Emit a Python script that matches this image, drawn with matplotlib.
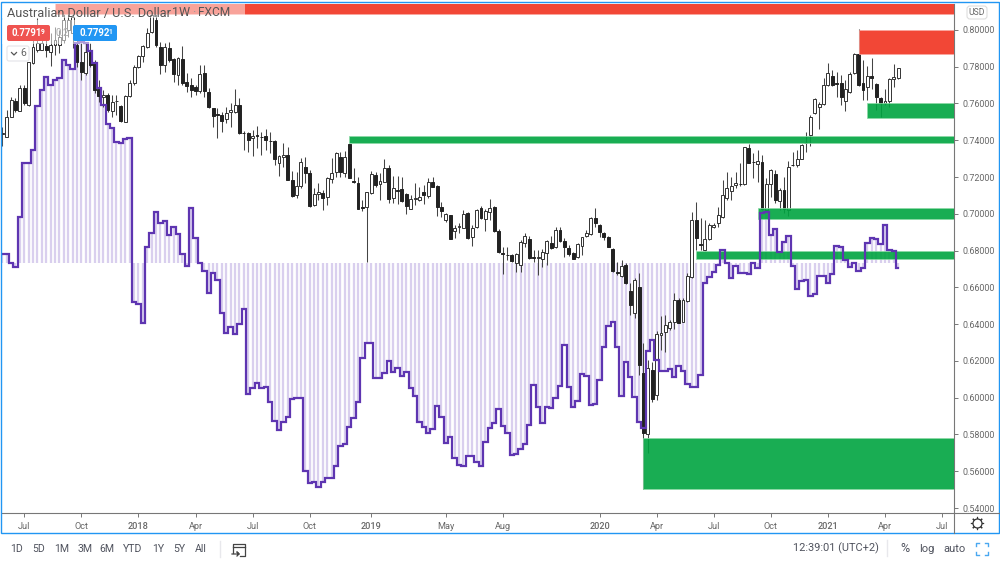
import matplotlib
matplotlib.use('Agg')
import matplotlib.pyplot as plt
from matplotlib.patches import Rectangle, FancyBboxPatch
import numpy as np

plt.rcParams['font.family'] = ['Roboto', 'DejaVu Sans']

# weekly AUD/USD candles, prices x 1e4
opens = [7434,7420,7528,7615,7561,7682,7592,7818,7891,7891,
         7915,7882,7918,7918,7945,7999,7982,7918,7828,7768,
         7882,7818,7677,7637,7646,7561,7612,7586,7501,7641,
         7710,7800,7858,7909,7991,8054,7909,7809,7904,7840,
         7755,7842,7719,7701,7688,7670,7768,7664,7574,7541,
         7537,7514,7556,7556,7590,7441,7438,7411,7427,7420,
         7423,7398,7398,7275,7311,7320,7184,7101,7151,7256,
         7224,7048,7108,7115,7093,7188,7229,7307,7224,7380,
         7178,7169,7035,7039,7111,7211,7162,7175,7247,7084,
         7128,7133,7106,7026,7081,7075,7119,7099,7175,7151,
         7035,6966,6992,6907,6928,6925,7003,6872,6926,7030,
         6970,7008,7035,6907,6789,6776,6774,6731,6722,6839,
         6861,6765,6758,6752,6785,6839,6818,6912,6852,6812,
         6789,6763,6827,6879,6888,6979,6939,6897,6872,6809,
         6682,6664,6722,6580,6462,6600,6136,5802,6150,6014,
         6341,6359,6377,6413,6531,6413,6528,6658,6966,6834,
         6803,6861,6926,6952,6981,7084,7126,7155,7162,7162,
         7356,7284,7271,7280,7021,7162,7215,7071,7130,7021,
         7267,7267,7300,7383,7429,7547,7583,7597,7701,7750,
         7710,7710,7615,7664,7764,7869,7710,7692,7750,7706,
         7632,7601,7615,7731,7737]
highs = [7474,7565,7637,7628,7701,7701,7828,7964,8063,7982,
         7945,7982,8018,7999,8109,8090,8090,7999,7927,7927,
         7927,7837,7728,7673,7655,7646,7646,7592,7646,7728,
         7809,7864,7918,8009,8127,8090,7936,7927,7936,7846,
         7851,7913,7764,7737,7701,7809,7809,7682,7574,7574,
         7556,7583,7601,7677,7628,7452,7447,7456,7478,7447,
         7460,7447,7402,7320,7383,7365,7235,7229,7302,7311,
         7238,7139,7166,7130,7202,7302,7338,7338,7343,7380,
         7247,7202,7075,7120,7235,7229,7220,7296,7266,7206,
         7206,7198,7111,7102,7166,7148,7157,7193,7202,7157,
         7066,7003,6995,6939,6948,7021,7012,6939,7026,7042,
         7024,7079,7042,6916,6818,6818,6781,6785,6858,6894,
         6879,6803,6803,6807,6858,6879,6926,6926,6867,6830,
         6794,6843,6876,6912,6981,7030,6945,6903,6879,6812,
         6740,6749,6731,6622,6649,6680,6295,6205,6196,6364,
         6444,6450,6422,6567,6540,6540,6680,7012,7066,6975,
         6966,6948,6948,7039,7184,7229,7202,7229,7278,7365,
         7380,7329,7347,7320,7193,7242,7238,7139,7202,7289,
         7338,7347,7380,7447,7537,7628,7610,7737,7818,7782,
         7773,7755,7728,7773,7877,8003,7837,7804,7846,7710,
         7637,7677,7737,7815,7795]
lows = [7371,7418,7525,7556,7559,7592,7586,7816,7882,7889,
        7855,7806,7864,7873,7927,7964,7900,7800,7728,7755,
        7800,7655,7610,7583,7556,7528,7537,7499,7499,7637,
        7701,7791,7828,7900,7982,7909,7760,7773,7828,7719,
        7701,7701,7664,7637,7646,7655,7637,7574,7470,7411,
        7447,7496,7474,7547,7434,7347,7338,7314,7356,7320,
        7347,7329,7266,7206,7256,7182,7093,7084,7139,7166,
        7039,7042,7075,7021,7048,7166,7202,7202,7202,7193,
        7169,7024,7017,6740,7108,7148,7075,7171,7057,7057,
        7053,7066,7000,7024,7048,7071,7053,7084,7144,6988,
        6981,6957,6863,6867,6894,6921,6861,6827,6923,6970,
        6908,6966,6903,6789,6673,6749,6738,6685,6685,6821,
        6756,6740,6667,6709,6722,6807,6812,6849,6767,6771,
        6752,6758,6776,6872,6885,6930,6876,6858,6818,6685,
        6667,6658,6618,6450,6431,6123,5501,5697,5978,5987,
        6259,6250,6368,6372,6404,6410,6522,6649,6803,6803,
        6800,6858,6921,6930,6975,7075,7075,7139,7151,7157,
        7275,7193,7175,7021,7017,7093,7057,7021,7003,6988,
        7260,7253,7296,7338,7369,7543,7460,7592,7697,7697,
        7637,7592,7561,7659,7760,7695,7619,7619,7677,7565,
        7528,7592,7583,7688,7733]
closes = [7438,7528,7619,7565,7682,7601,7824,7909,7927,7927,
          7891,7918,7945,7964,8054,8054,8072,7828,7773,7882,
          7809,7673,7641,7646,7565,7610,7614,7503,7641,7713,
          7800,7858,7913,7982,8081,7918,7809,7906,7837,7760,
          7846,7710,7695,7673,7670,7760,7670,7579,7534,7539,
          7507,7547,7565,7592,7438,7438,7402,7425,7423,7418,
          7402,7396,7296,7314,7320,7184,7097,7151,7284,7224,
          7042,7108,7120,7084,7193,7220,7329,7229,7307,7197,
          7175,7026,7033,7117,7215,7157,7178,7247,7081,7139,
          7124,7071,7042,7079,7084,7093,7102,7171,7148,7035,
          7017,6997,6865,6925,6936,6997,6867,6925,7021,6975,
          7015,7033,6907,6794,6781,6774,6745,6781,6845,6879,
          6760,6762,6767,6790,6854,6816,6912,6854,6818,6781,
          6756,6836,6872,6897,6975,6952,6903,6876,6821,6691,
          6678,6714,6622,6504,6640,6178,5806,6160,5991,6346,
          6354,6395,6413,6531,6408,6531,6662,6966,6867,6832,
          6861,6939,6939,6994,7102,7139,7151,7169,7160,7362,
          7278,7282,7289,7024,7160,7238,7075,7130,7024,7253,
          7265,7300,7374,7386,7528,7623,7595,7701,7764,7701,
          7708,7637,7677,7760,7869,7701,7673,7750,7737,7637,
          7605,7615,7731,7742,7791]

# oscillator on its own hidden scale, 0 is the histogram base
osc = [27,27,1,-11,139,299,299,339,471,519,
       557,534,549,554,609,594,581,659,664,659,
       637,601,524,474,417,404,364,359,371,375,
       -116,-123,-181,49,91,153,121,127,84,109,
       87,27,-8,164,74,-1,-23,-91,-31,-51,
       -151,-209,-193,-213,-183,-139,-394,-376,-361,-376,
       -371,-416,-473,-501,-476,-461,-408,-404,-406,-623,
       -661,-656,-671,-656,-646,-646,-608,-548,-543,-493,
       -465,-417,-285,-241,-241,-346,-346,-329,-294,-326,
       -316,-339,-326,-374,-399,-476,-491,-511,-497,-430,
       -463,-541,-523,-586,-606,-608,-579,-579,-596,-608,
       -538,-494,-481,-438,-489,-509,-577,-574,-559,-544,
       -485,-367,-433,-479,-431,-436,-404,-369,-245,-373,
       -433,-414,-334,-339,-426,-424,-351,-251,-189,-176,
       -253,-398,-298,-343,-403,-477,-496,-264,-230,-291,
       -324,-324,-318,-343,-308,-323,-363,-371,-373,-335,
       -59,-43,-26,-6,39,-1,-46,-9,-31,-29,
       -33,1,-16,149,152,84,101,34,64,81,
       -9,-79,-54,-51,-98,-93,-39,-39,-59,-34,
       51,47,9,-11,-1,-24,-14,59,76,73,
       56,114,39,36,-14]

# supply / demand zones: first bar, top, bottom
zone_start = [12, 195, 197, 79, 172, 158, 146]
zone_top = [0.8160, 0.8000, 0.7600, 0.7425, 0.7030, 0.6800, 0.5780]
zone_bottom = [0.8087, 0.7870, 0.7522, 0.7383, 0.6972, 0.6752, 0.5501]
zone_color = ['r', 'r', 'g', 'g', 'g', 'g', 'g']

x_tick_pos = [5, 18, 31, 44, 57, 70, 84, 101, 114, 136, 149, 162, 175, 188, 201, 214]
x_tick_labels = ['Jul', 'Oct', '2018', 'Apr', 'Jul', 'Oct', '2019', 'May', 'Aug', '2020',
                 'Apr', 'Jul', 'Oct', '2021', 'Apr', 'Jul']
y_ticks = [0.54, 0.56, 0.58, 0.60, 0.62, 0.64, 0.66, 0.68, 0.70, 0.72, 0.74, 0.76, 0.78, 0.80]

ranges_left = ['1D', '5D', '1M', '3M', '6M', 'YTD', '1Y', '5Y', 'All']
ranges_x = [17, 39, 62, 85, 107, 133, 158, 179, 201]

opens, highs, lows, closes = [np.array(a) / 1e4 for a in (opens, highs, lows, closes)]
bars = np.arange(len(closes))
osc = np.array(osc)

fig = plt.figure(figsize=(10, 5.62), dpi=100)
ax = fig.add_axes([2 / 1000, 49 / 562, 951.5 / 1000, 509 / 562])
ax_hist = ax.twinx()
ax_line = ax.twinx()
ax_hist.set_zorder(1)
ax.set_zorder(2)
ax_line.set_zorder(3)
ax.patch.set_visible(False)
ax_line.patch.set_visible(False)
ax_hist.patch.set_facecolor('white')

x_max = 216.6
ax.set_xlim(-0.07, x_max)
ax.set_ylim(0.5373, 0.8141)
for a in (ax_hist, ax_line):
    a.set_ylim(-750, 777)
    a.set_yticks([])
    for s in a.spines.values():
        s.set_visible(False)

# histogram behind, candles, zones, then the step line on top
ax_hist.vlines(bars, 0, osc, color='#d9cfee', lw=1.65)

up = closes >= opens
ax.vlines(bars, lows, highs, color='#444444', lw=0.75, zorder=2)
ax.bar(bars[up], (closes - opens)[up], bottom=opens[up], width=0.66, facecolor='white',
       edgecolor='#333333', lw=0.7, zorder=3)
ax.bar(bars[~up], (closes - opens)[~up], bottom=opens[~up], width=0.66, facecolor='#222222',
       edgecolor='#222222', lw=0.7, zorder=3)

for start, top, bottom, c in zip(zone_start, zone_top, zone_bottom, zone_color):
    if c == 'g':
        face, edge = (0.0, 0.643, 0.25, 0.9), (0.55, 0.85, 0.65, 0.9)
    else:
        face, edge = (0.95, 0.24, 0.17, 0.95), (0.98, 0.65, 0.62, 0.9)
    ax.add_patch(Rectangle((start, bottom), x_max - start, top - bottom,
                           facecolor=face, edgecolor=edge, lw=0.6, zorder=4))

ax_line.step(bars, osc, where='mid', color='#5e35b1', lw=1.6, solid_joinstyle='miter')

ax.yaxis.tick_right()
ax.set_yticks(y_ticks)
ax.set_yticklabels([f'{v:.5f}' for v in y_ticks])
ax.set_xticks(x_tick_pos)
ax.set_xticklabels(x_tick_labels)
for lab, txt in zip(ax.get_xticklabels(), x_tick_labels):
    if txt.isdigit():
        lab.set_fontweight('medium')
ax.tick_params(axis='y', length=3, width=0.7, color='#777777', labelcolor='#666666', labelsize=6.4, pad=3.5)
ax.tick_params(axis='x', length=3, width=0.7, color='#777777', labelcolor='#666666', labelsize=6.6, pad=3.5)
for side in ('left', 'top'):
    ax.spines[side].set_visible(False)
for side in ('right', 'bottom'):
    ax.spines[side].set_color('#777777')
    ax.spines[side].set_linewidth(0.8)

# interface parts, drawn in pixels of the screenshot
ui = fig.add_axes([0, 0, 1, 1])
ui.set_zorder(5)
ui.set_xlim(0, 1000)
ui.set_ylim(562, 0)
ui.axis('off')
ui.patch.set_visible(False)

ui.add_patch(Rectangle((0.8, 2), 998.4, 531, facecolor='none', edgecolor='#2196f3', lw=1.0))
ui.plot([953.5, 1000], [513, 513], color='#777777', lw=0.8)
ui.plot([953.5, 953.5], [513, 533], color='#777777', lw=0.8)

# faded backing under the title and price badges
ui.add_patch(Rectangle((2, 4), 243, 14, facecolor='white', alpha=0.5, lw=0))
ui.add_patch(Rectangle((2, 20), 118, 24, facecolor='white', alpha=0.5, lw=0))

ui.text(7, 13, 'Australian Dollar / U.S. Dollar', fontsize=9.2, color='#555555', va='center')
ui.text(167, 13, '·', fontsize=9.2, color='#999999', va='center')
ui.text(172, 13, '1W', fontsize=9.0, color='#555555', va='center')
ui.text(192, 13, '·', fontsize=9.2, color='#999999', va='center')
ui.text(198, 13, 'FXCM', fontsize=8.6, color='#555555', va='center')

ui.add_patch(FancyBboxPatch((7, 25), 43, 16, boxstyle='round,pad=0,rounding_size=2', facecolor='#ef5350', lw=0))
ui.add_patch(FancyBboxPatch((73, 25), 44, 16, boxstyle='round,pad=0,rounding_size=2', facecolor='#2196f3', lw=0))
ui.text(11.5, 33.5, '0.7791', fontsize=7.0, color='white', fontweight='bold', va='center')
ui.text(41, 31.5, '9', fontsize=4.8, color='white', fontweight='bold', va='center')
ui.text(79, 33.5, '0.7792', fontsize=7.0, color='white', fontweight='bold', va='center')
ui.text(108.5, 31.5, '1', fontsize=4.8, color='white', fontweight='bold', va='center')
ui.text(56, 33.5, '0.2', fontsize=7, color='#aaaaaa', va='center')

ui.add_patch(FancyBboxPatch((7, 46), 22, 15, boxstyle='round,pad=0,rounding_size=2',
                            facecolor='white', edgecolor='#e4e4e8', lw=0.8))
ui.plot([11.5, 14, 16.5], [52.5, 55, 52.5], color='#555555', lw=0.9)
ui.text(20, 53.5, '6', fontsize=7.5, color='#666666', va='center')

ui.add_patch(FancyBboxPatch((967, 6), 20, 13, boxstyle='round,pad=0,rounding_size=3',
                            facecolor='white', edgecolor='#dddddd', lw=0.8))
ui.text(977, 12.7, 'USD', fontsize=6.2, color='#666666', ha='center', va='center')

# gear
ui.plot(977, 523, marker=(8, 2, 0), ms=9.5, color='#333333', mew=0.8)
ui.plot(977, 523, marker='o', ms=6.5, mfc='white', mec='#333333', mew=0.9)

for txt, x in zip(ranges_left, ranges_x):
    ui.text(x, 549, txt, fontsize=7.6, color='#50535e', ha='center', va='center')
ui.plot([220, 220], [541, 557], color='#e8e8ec', lw=1)

# go-to-date icon
ui.plot([233, 233, 245, 245, 240], [553, 544, 544, 556, 556], color='#444444', lw=0.9)
ui.plot([233, 245], [547, 547], color='#444444', lw=0.9)
ui.plot([232, 239, 237, 239, 237], [554, 554, 552, 554, 556], color='#444444', lw=0.9)

ui.text(836, 548, '12:39:01 (UTC+2)', fontsize=7.9, color='#50535e', ha='center', va='center')
ui.plot([887, 887], [540, 556], color='#e8e8ec', lw=1)
ui.text(905, 548.5, '%', fontsize=9, color='#50535e', ha='center', va='center')
ui.text(927, 548.5, 'log', fontsize=8, color='#50535e', ha='center', va='center')
ui.text(955, 548.5, 'auto', fontsize=8, color='#50535e', ha='center', va='center')

# fullscreen corners
for cx, sx in ((976, 1), (988, -1)):
    for cy, sy in ((543, 1), (555, -1)):
        ui.plot([cx + 3 * sx, cx, cx], [cy, cy, cy + 3 * sy], color='#4aa8f0', lw=1)

fig.savefig('out.png', dpi=100)
